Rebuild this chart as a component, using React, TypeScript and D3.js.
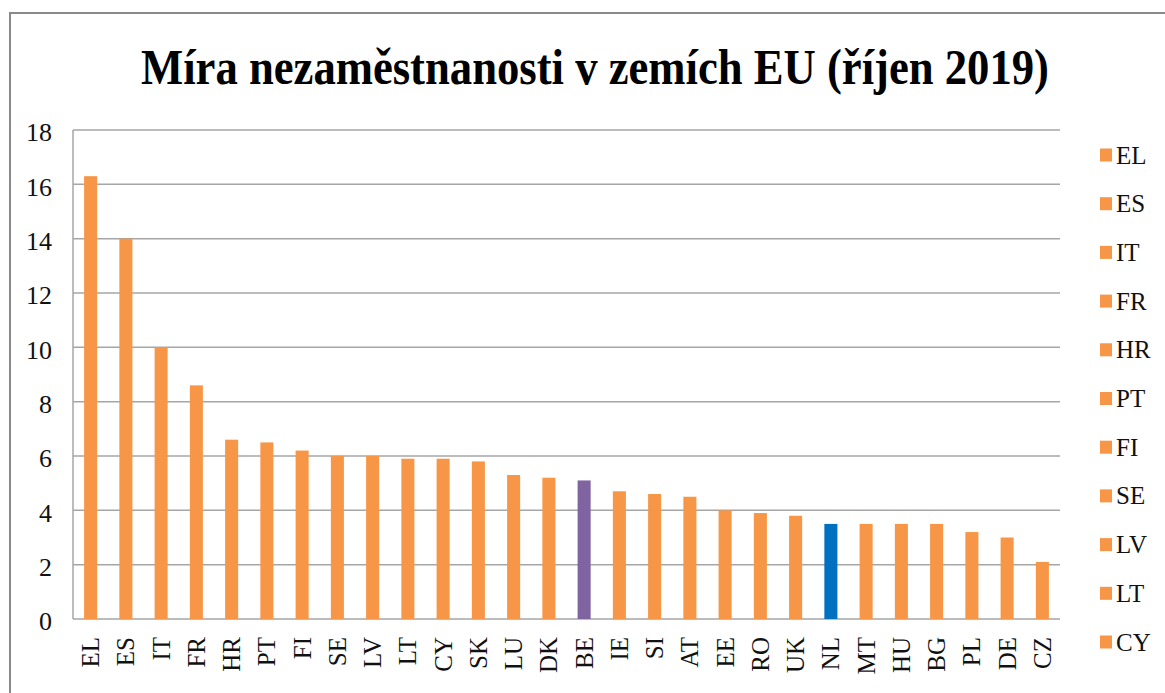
import React, { useEffect, useRef } from 'react';
import * as d3 from 'd3';

const countries = ['EL', 'ES', 'IT', 'FR', 'HR', 'PT', 'FI', 'SE', 'LV', 'LT', 'CY', 'SK', 'LU', 'DK',
  'BE', 'IE', 'SI', 'AT', 'EE', 'RO', 'UK', 'NL', 'MT', 'HU', 'BG', 'PL', 'DE', 'CZ'];
const rates = [16.3, 14.0, 10.0, 8.6, 6.6, 6.5, 6.2, 6.0, 6.0, 5.9, 5.9, 5.8, 5.3, 5.2,
  5.1, 4.7, 4.6, 4.5, 4.0, 3.9, 3.8, 3.5, 3.5, 3.5, 3.5, 3.2, 3.0, 2.1];
const yTicks = [0, 2, 4, 6, 8, 10, 12, 14, 16, 18];
// legend in the original is cut off after CY
const legendItems = ['EL', 'ES', 'IT', 'FR', 'HR', 'PT', 'FI', 'SE', 'LV', 'LT', 'CY'];
const title = 'Míra nezaměstnanosti v zemích EU (říjen 2019)';

const W = 1165;
const H = 693;
const orange = '#F79646';
const special: Record<string, string> = { BE: '#8064A2', NL: '#0070C0' };
const font = '"Liberation Serif", "Times New Roman", serif';

export default function App() {
  const ref = useRef<SVGSVGElement>(null);

  useEffect(() => {
    const svg = d3.select(ref.current);
    svg.selectAll('*').remove();

    const left = 73, right = 1060, top = 130, bottom = 619;

    const x = d3.scaleBand<string>()
      .domain(countries)
      .range([left, right])
      .paddingInner(0.63)
      .paddingOuter(0.315);

    const y = d3.scaleLinear().domain([0, 18]).range([bottom, top]);

    svg.append('rect')
      .attr('width', W).attr('height', H).attr('fill', '#fff');

    // outer chart border (runs off the right and bottom edges)
    svg.append('rect')
      .attr('x', 10).attr('y', 13)
      .attr('width', W + 20).attr('height', H + 20)
      .attr('fill', 'none').attr('stroke', '#8a8a8a').attr('stroke-width', 2);

    svg.append('text')
      .attr('x', 595).attr('y', 84)
      .attr('text-anchor', 'middle')
      .style('font-family', font)
      .attr('font-weight', 'bold')
      .attr('font-size', 50)
      .attr('textLength', 908)
      .attr('lengthAdjust', 'spacingAndGlyphs')
      .text(title);

    // gridlines
    svg.append('g')
      .selectAll('line')
      .data(yTicks)
      .join('line')
      .attr('x1', left).attr('x2', right)
      .attr('y1', d => y(d)).attr('y2', d => y(d))
      .attr('stroke', '#a6a6a6').attr('stroke-width', 1.5);

    svg.append('line')
      .attr('x1', left).attr('x2', left)
      .attr('y1', top).attr('y2', bottom)
      .attr('stroke', '#a6a6a6').attr('stroke-width', 1.5);

    const yAxis = d3.axisLeft(y).tickValues(yTicks).tickSize(0).tickPadding(21);
    const ya = svg.append('g').attr('transform', `translate(${left},0)`).call(yAxis);
    ya.attr('font-family', null);
    ya.select('.domain').remove();
    ya.selectAll('text')
      .style('font-family', font)
      .style('font-size', '26px')
      .attr('fill', '#111')
      .attr('dy', '0.42em');

    svg.append('g')
      .selectAll('rect')
      .data(countries)
      .join('rect')
      .attr('x', d => x(d)!)
      .attr('width', x.bandwidth())
      .attr('y', (d, i) => y(rates[i]))
      .attr('height', (d, i) => y(0) - y(rates[i]))
      .attr('fill', d => special[d] || orange);

    const xAxis = d3.axisBottom(x).tickSize(0).tickPadding(0);
    const xa = svg.append('g').attr('transform', `translate(0,${bottom})`).call(xAxis);
    xa.attr('font-family', null);
    xa.select('.domain').remove();
    xa.selectAll('text')
      .style('font-family', font)
      .style('font-size', '25px')
      .attr('fill', '#111')
      .attr('text-anchor', 'end')
      .attr('transform', 'rotate(-90)')
      .attr('x', -18)
      .attr('y', 0)
      .attr('dy', '0.34em');

    const legend = svg.append('g')
      .selectAll('g')
      .data(legendItems)
      .join('g')
      .attr('transform', (d, i) => `translate(1100,${155 + i * 48.7})`);
    legend.append('rect')
      .attr('x', 0).attr('y', -6.5)
      .attr('width', 12).attr('height', 13)
      .attr('fill', d => special[d] || orange);
    legend.append('text')
      .attr('x', 16).attr('y', 0)
      .attr('dy', '0.34em')
      .style('font-family', font)
      .style('font-size', '25px')
      .attr('fill', '#111')
      .text(d => d);
  }, []);

  return (
    <svg ref={ref} width={W} height={H}
      style={{ position: 'absolute', left: 0, top: 0, display: 'block' }} />
  );
}
